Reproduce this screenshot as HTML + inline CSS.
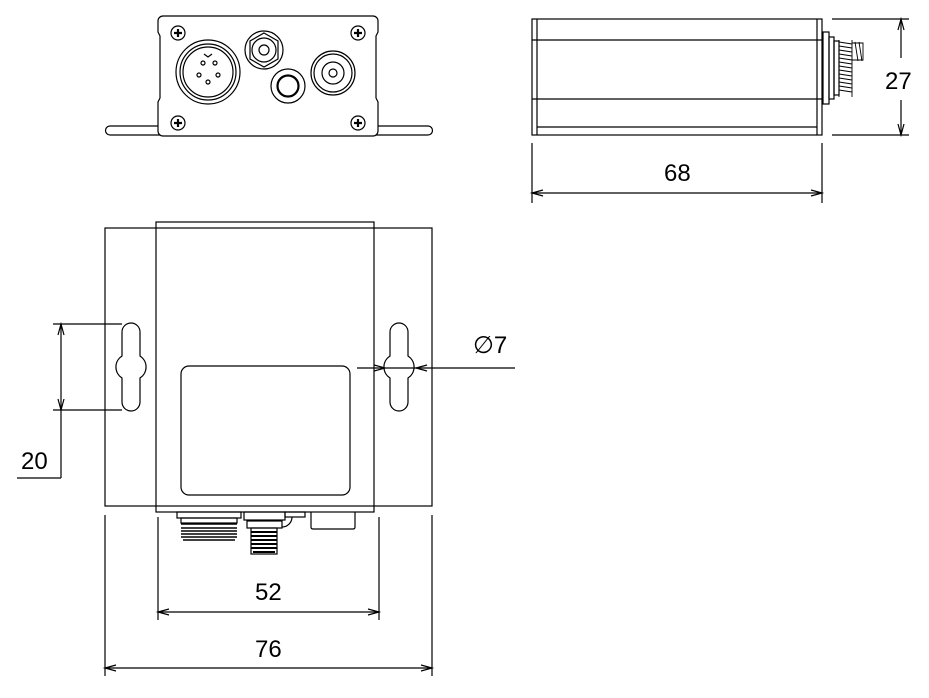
<!DOCTYPE html>
<html><head><meta charset="utf-8"><style>
html,body{margin:0;padding:0;background:#fff;}
svg{display:block;}
text{font-family:"Liberation Sans",Arial,sans-serif;font-size:24px;fill:#000;stroke:none;}
</style></head><body>
<svg width="929" height="698" viewBox="0 0 929 698" xmlns="http://www.w3.org/2000/svg" fill="none" stroke="#000" stroke-width="1.2">
<!-- FRONT VIEW -->
<path d="M110 126 H158 M378 126 H428 A4.5 4.5 0 0 1 428 135 H110 A4.5 4.5 0 0 1 110 126"/>
<path d="M163 16 H373 A5 5 0 0 1 378 21 V32 L376 36 V98 L378 102 V131 A5 5 0 0 1 373 136 H163 A5 5 0 0 1 158 131 V102 L160 98 V36 L158 32 V21 A5 5 0 0 1 163 16 Z" fill="#fff"/>
<g>
<circle cx="178" cy="33" r="7"/><circle cx="358" cy="33" r="7"/><circle cx="178" cy="123" r="7"/><circle cx="358" cy="123" r="7"/>
<path d="M174 33h8M178 29v8M354 33h8M358 29v8M174 123h8M178 119v8M354 123h8M358 119v8" stroke-width="2.2"/>
</g>
<circle cx="208" cy="72" r="32"/><circle cx="208" cy="72" r="28"/><circle cx="208" cy="72" r="25"/>
<circle cx="203" cy="63" r="2"/><circle cx="215" cy="63" r="2"/><circle cx="199" cy="75" r="2"/><circle cx="218" cy="75" r="2"/><circle cx="208" cy="82" r="2"/>
<path d="M204 54 L208 57 L212 54"/>
<circle cx="264" cy="50" r="19"/>
<path d="M264 33 L278 41 L278 59 L264 67 L250 59 L250 41 Z"/>
<circle cx="264" cy="50" r="12"/><circle cx="264" cy="50" r="5"/>
<circle cx="288" cy="86" r="17"/><circle cx="288" cy="86" r="11"/><circle cx="288" cy="86" r="10"/>
<circle cx="333" cy="73" r="22"/><circle cx="333" cy="73" r="19"/><circle cx="333" cy="73" r="11"/><circle cx="333" cy="73" r="4"/>

<!-- SIDE VIEW -->
<rect x="532" y="19" width="290" height="116"/>
<path d="M537 19V135M817 19V135M532 40H822M532 99H822M537 127H817"/>
<rect x="823" y="32" width="6" height="72"/>
<rect x="829" y="37" width="5" height="62"/>
<rect x="834" y="41" width="5" height="54"/>
<g stroke-width="0.9">
<path d="M839 42 L852 44 M839 46 L852 48 M839 50 L852 52 M839 54 L852 56 M839 58 L852 60 M839 62 L852 64 M839 66 L852 68 M839 70 L852 72 M839 74 L852 76 M839 78 L852 80 M839 82 L852 84 M839 86 L852 88 M839 90 L852 92"/>
<path d="M839 40V97M852 40V97"/>
<path d="M852 43 L863 43 V60 L852 60 M855 42 L858 61 M859 42 L862 61"/>
</g>
<path d="M832 19H909M832 135H909M901 19V58M901 100V135"/>
<path d="M898 30 L901 19 L904 30 M898 124 L901 135 L904 124"/>
<text x="885" y="89">27</text>
<path d="M532 143V203M822 143V203M532 193H822"/>
<path d="M543 190 L532 193 L543 196 M811 190 L822 193 L811 196"/>
<text x="664" y="181">68</text>

<!-- TOP VIEW -->
<rect x="105" y="228" width="327" height="278"/>
<rect x="156" y="222" width="218" height="290"/>
<rect x="181" y="366" width="169" height="129" rx="8"/>
<path d="M122 332 A9 9 0 0 1 140 332 V356 A13 13 0 0 1 140 378 V402 A9 9 0 0 1 122 402 V378 A13 13 0 0 1 122 356 Z"/>
<path d="M390 332 A9 9 0 0 1 408 332 V356 A13 13 0 0 1 408 378 V402 A9 9 0 0 1 390 402 V378 A13 13 0 0 1 390 356 Z"/>
<path d="M53 324H122M53 410H122M61 324V478M17 478H61"/>
<path d="M58 335 L61 324 L64 335 M58 399 L61 410 L64 399"/>
<text x="21" y="469">20</text>
<path d="M357 368H515"/>
<path d="M374 365 L385 368 L374 371 M427 365 L416 368 L427 371"/>
<text x="473" y="353">∅7</text>
<!-- bottom connectors -->
<rect x="177" y="512" width="64" height="6"/>
<rect x="181" y="518" width="56" height="5"/>
<g stroke-width="1.4"><path d="M181 524H237M181 528H237M181 531H237M181 534H237M181 537H237M183 540H235"/></g>
<rect x="244" y="512" width="41" height="8"/>
<rect x="285" y="512" width="20" height="5"/>
<path d="M292 517 A10 10 0 0 1 282 527"/>
<rect x="247" y="521" width="35" height="7"/>
<rect x="251" y="528" width="26" height="26"/>
<g stroke-width="2"><path d="M251 532H277M251 536H277M251 540H277M251 544H277M251 548H277M253 552H275"/></g>
<path d="M311 512 V527 Q311 529 313 529 H353 Q355 529 355 527 V512"/>
<!-- dims bottom -->
<path d="M158 517V620M379 517V620M158 612H379"/>
<path d="M169 609 L158 612 L169 615 M368 609 L379 612 L368 615"/>
<text x="255" y="600">52</text>
<path d="M105 515V676M432 515V676M105 668H432"/>
<path d="M116 665 L105 668 L116 671 M421 665 L432 668 L421 671"/>
<text x="255" y="657">76</text>
</svg>
</body></html>
